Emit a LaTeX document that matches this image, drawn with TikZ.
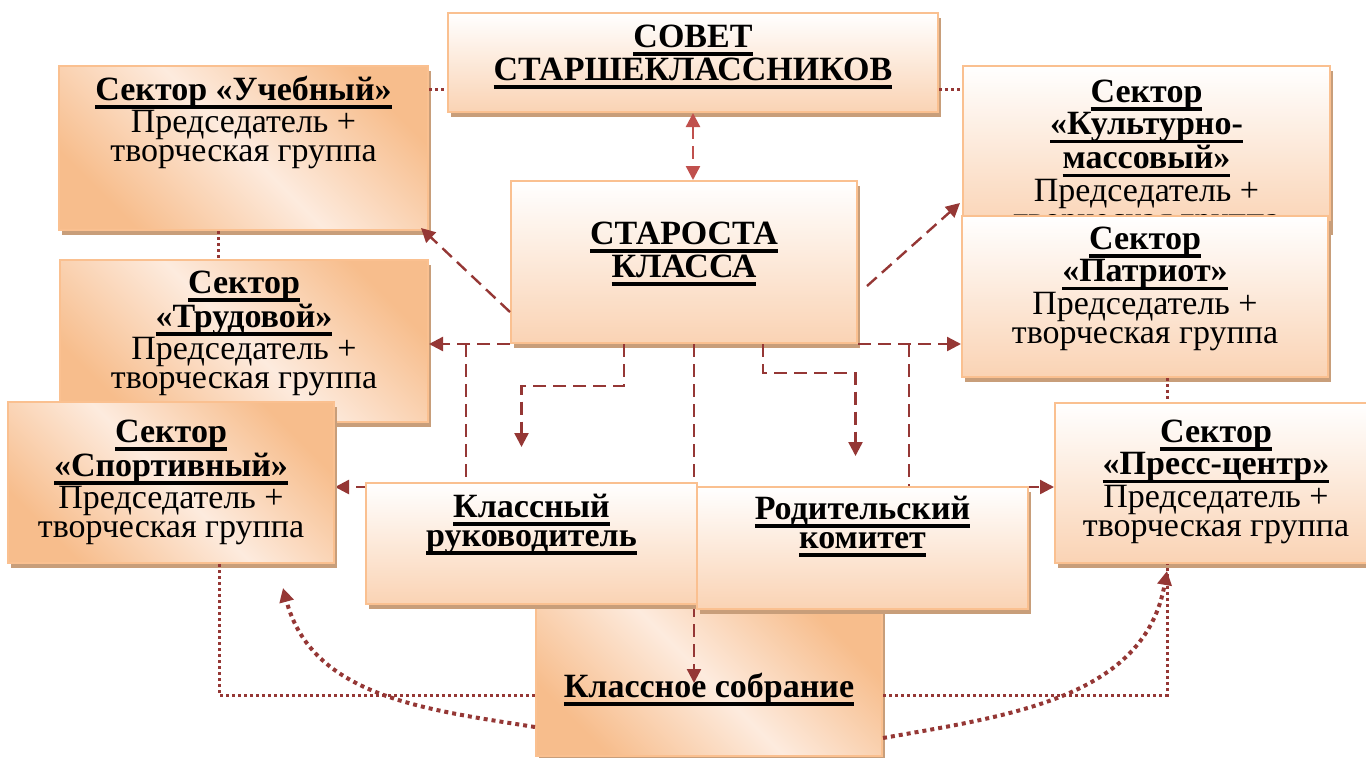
\documentclass[tikz,border=0pt]{standalone}
\usepackage{fontspec}
\setmainfont{Liberation Serif}
\usetikzlibrary{arrows.meta,calc,shadows}

\definecolor{linkred}{RGB}{149,55,53}
\definecolor{linkpink}{RGB}{192,80,77}
\definecolor{edgeorange}{RGB}{250,192,144}
\definecolor{shadowtan}{RGB}{200,158,122}
\definecolor{peachlow}{RGB}{250,211,180}
\definecolor{peachdark}{RGB}{247,189,140}
\definecolor{peachlight}{RGB}{253,235,222}

\pgfdeclarelayer{bg}
\pgfsetlayers{bg,main}

% bold underlined heading line
\newsavebox{\hdbox}
\newcommand{\hd}[1]{\leavevmode\sbox{\hdbox}{\bfseries #1}\rlap{\rule[-4.3pt]{\wd\hdbox}{1.7pt}}\usebox{\hdbox}}
% text of a box: width, height, first baseline, lines
\newcommand{\inbox}[4]{\parbox[c][#2][t]{#1}{\centering\rule{0pt}{#3}#4}}
\newcommand{\boxfont}{\fontsize{17}{14.5}\selectfont\lineskiplimit=-20pt\relax}

\tikzset{
  sector/.style={draw=edgeorange, line width=1pt, inner sep=0pt, font=\boxfont,
    drop shadow={shadow xshift=1.5pt, shadow yshift=-2.5pt, fill=shadowtan, opacity=1}},
  vgrad/.style={top color=white, bottom color=peachlow},
  dgrad/.style={top color=peachdark, bottom color=peachdark, middle color=peachlight, shading angle=-45},
  dashlink/.style={linkred, line width=1.2pt, dash pattern=on 6.5pt off 3.5pt},
  dotlink/.style={linkred, line width=1.5pt, dash pattern=on 1.5pt off 1.5pt},
  curvelink/.style={linkred, line width=2pt, dash pattern=on 2pt off 2pt},
  >={Triangle[length=7pt,width=7pt]}
}

\begin{document}
\begin{tikzpicture}[x=0.5pt, y=-0.5pt]
  \useasboundingbox (0,0) rectangle (1366,757);

  % sectors and councils
  \node[sector,vgrad] (sovet) at (693,62.5) {\inbox{245pt}{49.5pt}{17pt}{\hd{СОВЕТ}\\\hd{СТАРШЕКЛАССНИКОВ}}};
  \node[sector,dgrad] (uchebny) at (243.5,148) {\inbox{184.5pt}{82pt}{17pt}{\hd{Сектор «Учебный»}\\Председатель +\\творческая группа}};
  \node[sector,vgrad] (kultura) at (1146.5,148) {\inbox{183.5pt}{82pt}{18pt}{\hd{Сектор}\\\hd{«Культурно-}\\\hd{массовый»}\\Председатель +\\творческая группа}};
  \node[sector,vgrad] (patriot) at (1145,296.5) {\inbox{183pt}{80.5pt}{16.5pt}{\hd{Сектор}\\\hd{«Патриот»}\\Председатель +\\творческая группа}};
  \node[sector,vgrad] (starosta) at (684,262) {\inbox{173pt}{81pt}{31.5pt}{\hd{СТАРОСТА}\\\hd{КЛАССА}}};
  \node[sector,dgrad] (trudovoy) at (244,341) {\inbox{184pt}{81pt}{16.5pt}{\hd{Сектор}\\\hd{«Трудовой»}\\Председатель +\\творческая группа}};
  \node[sector,dgrad] (sport) at (171,482.5) {\inbox{163pt}{80.5pt}{20pt}{\hd{Сектор}\\\hd{«Спортивный»}\\Председатель +\\творческая группа}};
  \node[sector,vgrad] (press) at (1216,483) {\inbox{161pt}{80pt}{19.5pt}{\hd{Сектор}\\\hd{«Пресс-центр»}\\Председатель +\\творческая группа}};
  \node[sector,dgrad] (sobranie) at (709,680.5) {\inbox{173pt}{75.5pt}{46pt}{\hd{Классное собрание}}};
  \draw[dashlink,->] ($(starosta.south)+(10,0)$) -- ($(sobranie.north)+(-15,79)$);
  \node[sector,vgrad] (klruk) at (531.5,543.5) {\inbox{165.5pt}{60.5pt}{17pt}{\hd{Классный}\\\hd{руководитель}}};
  \node[sector,vgrad] (roditel) at (862.5,548) {\inbox{165.5pt}{61pt}{16pt}{\hd{Родительский}\\\hd{комитет}}};

  % dotted links
  \path ($(uchebny.north east)+(0,24)$) coordinate (u1);
  \draw[dotlink] (u1) -- (u1 -| sovet.west);
  \draw[dotlink] (u1 -| sovet.east) -- (u1 -| kultura.west);
  \draw[dotlink] ($(uchebny.south)+(-25,0)$) coordinate (u2) -- (u2 |- trudovoy.north);
  \draw[dotlink] ($(patriot.south)+(22,0)$) coordinate (p2) -- (p2 |- press.north);
  \draw[dotlink] ($(sport.south)+(48,0)$) |- ($(sobranie.west)+(0,14.5)$);
  \draw[dotlink] ($(sobranie.east)+(0,14.5)$) -| ($(press.south)+(-49,0)$);
  \draw[curvelink,->] ($(sobranie.west)+(0,46.5)$) to[out=171,in=-75] ($(sport.south)+(112,24)$);
  \draw[curvelink,->] ($(sobranie.east)+(0,57.5)$) to[out=10,in=-100] ($(press.south)+(-49,7)$);

  % dashed links from the class head
  \draw[dashlink,linkpink,<->] (sovet.south) -- (sovet.south |- starosta.north);
  \draw[dashlink,->] ($(starosta.south west)+(0,-32)$) -- ($(uchebny.south east)+(-8,-3)$);
  \draw[dashlink,->] ($(starosta.east)+(9,24)$) -- ($(kultura.south west)+(-2,-28)$);
  \draw[dashlink,->] (starosta.south west) -- (starosta.south west -| trudovoy.east);
  \draw[dashlink,->] (starosta.south east) -- (starosta.south east -| patriot.west);
  \draw[dashlink,->] ($(starosta.south)+(-60,0)$) -- ++(0,42) -| ($(klruk.north)+(-10,-35)$);
  \draw[dashlink,->] ($(starosta.south)+(79,0)$) -- ++(0,29) -| ($(roditel.north)+(-7,-30)$);
  \begin{pgfonlayer}{bg}
    \draw[dashlink,->] ($(starosta.south west)+(-44,0)$) |- ($(sport.east)+(0,4.5)$);
    \draw[dashlink,->] ($(starosta.south east)+(51,0)$) |- ($(press.west)+(0,4)$);
  \end{pgfonlayer}
\end{tikzpicture}
\end{document}
